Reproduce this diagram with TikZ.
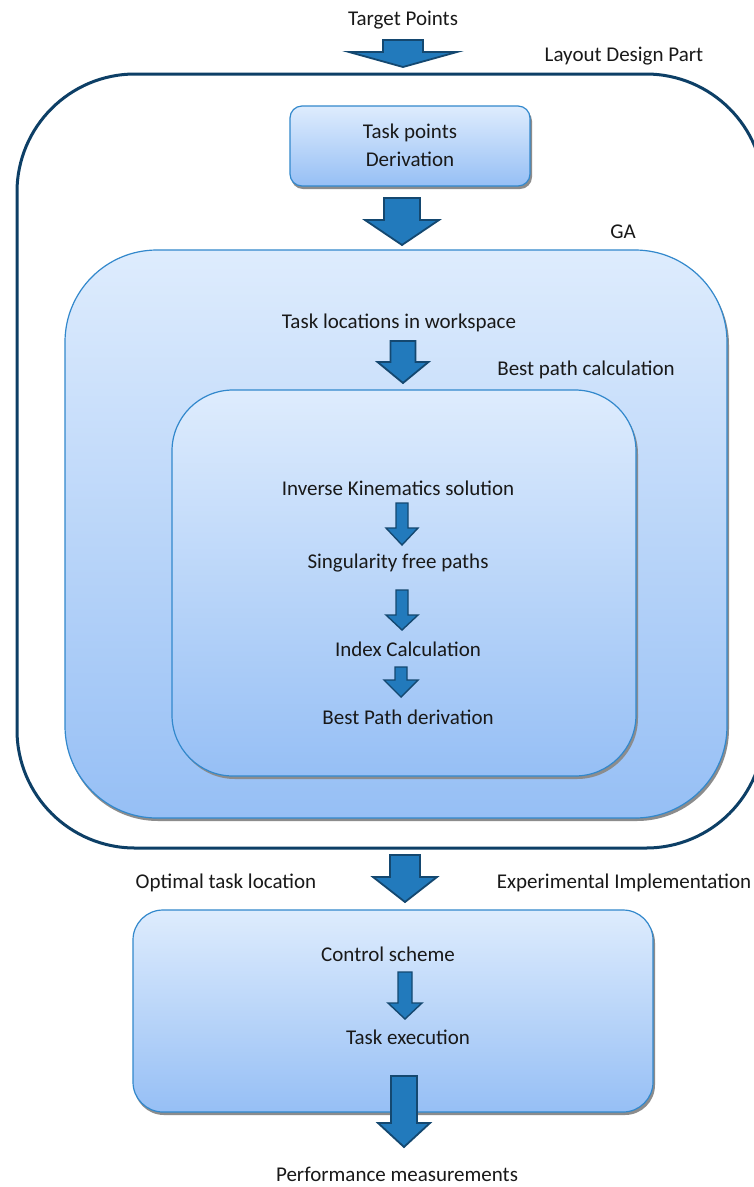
\documentclass[tikz,border=0pt]{standalone}
\usepackage{fontspec}
\setmainfont{Carlito}
\definecolor{boxline}{RGB}{50,136,204}
\definecolor{boxtop}{RGB}{222,236,253}
\definecolor{boxbot}{RGB}{150,191,245}
\definecolor{shadowc}{RGB}{140,140,140}
\definecolor{arrfill}{RGB}{34,122,188}
\definecolor{arrline}{RGB}{20,72,112}
\definecolor{framec}{RGB}{13,63,102}
\newcommand\blkarrow[7][]{% opts, cx, ytop, yhead, ytip, shaft half, head half
  \draw[barrow,#1] (#2-#6,#3) -- (#2+#6,#3) -- (#2+#6,#4) -- (#2+#7,#4) -- (#2,#5) -- (#2-#7,#4) -- (#2-#6,#4) -- cycle;}
\begin{document}
\begin{tikzpicture}[x=1pt,y=-1pt,
  lbl/.style={font=\fontsize{21}{25}\selectfont, inner sep=0pt, anchor=center, text=black!90},
  box/.style={draw=boxline, line width=1.2pt, top color=boxtop, bottom color=boxbot},
  shadowbox/.style={fill=shadowc},
  barrow/.style={fill=arrfill, draw=arrline, line width=1.8pt, line join=miter},
  thinarrow/.style={line width=1.4pt},
  frame/.style={draw=framec, line width=3pt}
]
\useasboundingbox (0,0) rectangle (753,1187);
\fill[white] (0,0) rectangle (753,1187);

% outer frame
\draw[frame, rounded corners=118pt] (17,74) rectangle (764,848);

% Task points box
\fill[shadowbox, rounded corners=12pt] (291,109) rectangle (532,189);
\draw[box, rounded corners=12pt] (290,106) rectangle (530,186);
\node[lbl] (tp) at (410,133) {Task points};
\node[lbl] (der) at (410,159) {Derivation};

% GA box
\fill[shadowbox, rounded corners=92pt] (66,253) rectangle (729,821);
\draw[box, rounded corners=92pt] (65,250) rectangle (727,818);

% inner box
\fill[shadowbox, rounded corners=61pt] (174,393) rectangle (638,779);
\draw[box, rounded corners=61pt] (172,390) rectangle (636,776);

% experimental box
\fill[shadowbox, rounded corners=30pt] (134,913) rectangle (655,1115);
\draw[box, rounded corners=30pt] (133,910) rectangle (653,1112);

% labels
\node[lbl] (target) at (403,20) {Target Points};
\node[lbl] (layout) at (624,56) {Layout Design Part};
\node[lbl] (ga) at (623,232) {GA};
\node[lbl] (tloc) at (399,323) {Task locations in workspace};
\node[lbl] (bpc) at (586,370) {Best path calculation};
\node[lbl] (ik) at (398,488) {Inverse Kinematics solution};
\node[lbl] (sing) at (398,563) {Singularity free paths};
\node[lbl] (idx) at (408,649) {Index Calculation};
\node[lbl] (bpd) at (408,717) {Best Path derivation};
\node[lbl] (opt) at (226,883) {Optimal task location};
\node[lbl] (exp) at (624,883) {Experimental Implementation};
\node[lbl] (ctrl) at (388,954) {Control scheme};
\node[lbl] (exec) at (408,1037) {Task execution};
\node[lbl] (perf) at (397,1174) {Performance measurements};

% block arrows
\blkarrow{403}{40}{52}{67}{20}{54}
\blkarrow{402}{198}{220}{245}{18}{37}
\blkarrow{403}{341}{362}{383}{12.5}{25.5}
\blkarrow[thinarrow]{402}{503}{528}{545}{6}{16}
\blkarrow[thinarrow]{402}{590}{615}{630}{6}{16}
\blkarrow[thinarrow]{401}{667}{680}{697}{6}{17}
\blkarrow{405}{855}{877}{902}{15}{32}
\blkarrow[thinarrow]{405}{972}{1003}{1019}{7}{17}
\blkarrow{404}{1076}{1123}{1147}{13}{26}
\end{tikzpicture}
\end{document}
